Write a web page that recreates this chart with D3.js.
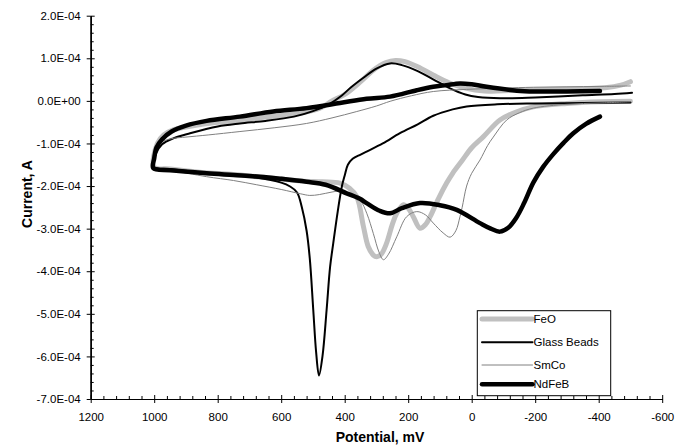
<!DOCTYPE html>
<html>
<head>
<meta charset="utf-8">
<script src="https://cdn.jsdelivr.net/npm/d3@7"></script>
<style>
  body { margin: 0; background: #fff; }
  text { font-family: "Liberation Sans", Arial, sans-serif; }
</style>
</head>
<body>
<script>
// potential in mV, current in units of 1E-4 A
const feoPotential = [-500, -470, -420, -300, -200, -100, -40, 20, 70, 120, 170, 210, 240, 270, 310, 350, 400, 440, 480, 550, 650, 750, 850, 940, 970, 990, 1000,
  950, 850, 750, 650, 541, 470, 415, 385, 362, 341, 326, 310, 299, 285, 268, 250, 236, 215, 200, 184, 163, 145, 131, 105, 79, 60, 30, 0, -37, -89, -140, -194, -300, -404, -500];
const feoCurrent = [0.45, 0.37, 0.31, 0.28, 0.26, 0.24, 0.23, 0.30, 0.42, 0.60, 0.80, 0.92, 0.95, 0.90, 0.72, 0.45, 0.15, 0.0, -0.18, -0.30, -0.38, -0.47, -0.55, -0.68, -0.80, -1.0, -1.55,
  -1.60, -1.68, -1.73, -1.80, -1.88, -1.90, -1.93, -2.05, -2.25, -2.95, -3.42, -3.62, -3.66, -3.60, -3.34, -2.90, -2.64, -2.44, -2.52, -2.72, -2.99, -2.90, -2.72, -2.30, -1.93, -1.70, -1.40, -1.10, -0.84, -0.45, -0.26, -0.14, -0.06, -0.02, -0.01];

const glassPotential = [-505, -450, -350, -200, -90, -20, 20, 70, 120, 170, 220, 257, 300, 340, 380, 410, 450, 500, 560, 650, 730, 800, 887, 940, 975, 995, 1000,
  950, 850, 750, 680, 600, 572, 550, 535, 520, 510, 499, 490, 481, 470, 457, 446, 436, 422, 409, 400, 390, 375, 350, 331, 280, 226, 170, 121, 60, 16, -80, -194, -350, -500];
const glassCurrent = [0.19, 0.16, 0.13, 0.08, 0.06, 0.09, 0.15, 0.30, 0.50, 0.70, 0.84, 0.88, 0.76, 0.55, 0.32, 0.12, -0.08, -0.24, -0.37, -0.47, -0.53, -0.60, -0.76, -0.88, -1.02, -1.25, -1.55,
  -1.60, -1.68, -1.75, -1.80, -1.92, -2.01, -2.15, -2.50, -3.05, -3.70, -4.91, -5.90, -6.45, -6.00, -4.91, -3.90, -3.34, -2.60, -2.01, -1.75, -1.50, -1.36, -1.26, -1.19, -1.00, -0.76, -0.55, -0.35, -0.20, -0.13, -0.08, -0.06, -0.05, -0.04];

const smcoPotential = [-500, -404, -300, -194, -100, 16, 121, 190, 257, 300, 362, 440, 520, 620, 730, 830, 900, 940, 970, 990, 1000, 1003,
  950, 835, 750, 677, 600, 540, 510, 480, 440, 415, 380, 350, 330, 310, 292, 278, 262, 236, 205, 173, 145, 121, 90, 68, 50, 37, 30, 16, 0, -26, -50, -68, -110, -150, -194, -300, -404, -500];
const smcoCurrent = [0.35, 0.34, 0.33, 0.32, 0.30, 0.27, 0.22, 0.12, -0.01, -0.12, -0.25, -0.40, -0.53, -0.63, -0.72, -0.80, -0.85, -0.88, -0.94, -1.05, -1.30, -1.55,
  -1.62, -1.78, -1.87, -1.97, -2.08, -2.18, -2.22, -2.20, -2.14, -2.12, -2.20, -2.35, -2.65, -3.11, -3.55, -3.73, -3.60, -3.19, -2.72, -2.60, -2.68, -2.87, -3.10, -3.20, -3.05, -2.72, -2.50, -2.00, -1.70, -1.39, -1.05, -0.85, -0.45, -0.28, -0.17, -0.08, -0.05, -0.02];

const ndfebPotential = [-404, -300, -200, -142, -47, 0, 37, 80, 121, 173, 257, 331, 415, 520, 625, 730, 835, 900, 945, 975, 993, 1000, 1003,
  950, 835, 750, 667, 600, 520, 460, 394, 352, 331, 290, 257, 220, 163, 100, 47, -26, -60, -89, -115, -140, -165, -194, -225, -257, -290, -320, -360, -404];
const ndfebCurrent = [0.23, 0.22, 0.22, 0.24, 0.33, 0.39, 0.41, 0.37, 0.33, 0.25, 0.10, 0.05, -0.05, -0.17, -0.25, -0.37, -0.47, -0.58, -0.72, -0.90, -1.10, -1.35, -1.58,
  -1.63, -1.70, -1.74, -1.78, -1.83, -1.90, -1.97, -2.17, -2.30, -2.40, -2.58, -2.64, -2.52, -2.40, -2.45, -2.56, -2.87, -3.00, -3.07, -2.98, -2.75, -2.40, -1.92, -1.55, -1.25, -0.98, -0.76, -0.54, -0.37];

const seriesNames = ["FeO", "Glass Beads", "SmCo", "NdFeB"];
const xTickValues = [1200, 1000, 800, 600, 400, 200, 0, -200, -400, -600];
const xTickLabels = ["1200", "1000", "800", "600", "400", "200", "0", "-200", "-400", "-600"];
const yTickValues = [2e-4, 1e-4, 0, -1e-4, -2e-4, -3e-4, -4e-4, -5e-4, -6e-4, -7e-4];
const yTickLabels = ["2.0E-04", "1.0E-04", "0.0E+00", "-1.0E-04", "-2.0E-04", "-3.0E-04", "-4.0E-04", "-5.0E-04", "-6.0E-04", "-7.0E-04"];

const styles = [
  { color: "#c0c0c0", width: 5 },
  { color: "#000", width: 2 },
  { color: "#808080", width: 1 },
  { color: "#000", width: 4.5 }
];

const toPoints = (p, c) => p.map((v, i) => ({ mv: v, amp: c[i] * 1e-4 }));
const series = [
  toPoints(feoPotential, feoCurrent),
  toPoints(glassPotential, glassCurrent),
  toPoints(smcoPotential, smcoCurrent),
  toPoints(ndfebPotential, ndfebCurrent)
];

const svg = d3.select("body").append("svg")
  .attr("width", 675)
  .attr("height", 448);

const x = d3.scaleLinear().domain([1200, -600]).range([90.7, 662.2]);
const y = d3.scaleLinear().domain([-7e-4, 2e-4]).range([399, 15.7]);

const xMinor = d3.range(1200, -600, -40).filter(v => v % 200 !== 0);
const yMinor = d3.range(-7e-4, 2e-4, 2e-5).filter((v, i) => i % 5 !== 0);

// y axis
const yAx = svg.append("g").attr("transform", `translate(${x(1200)},0)`);
yAx.append("g").call(d3.axisLeft(y).tickValues(yTickValues).tickSize(4).tickSizeOuter(0).tickFormat(""));
yAx.append("g").call(d3.axisRight(y).tickValues(yTickValues).tickSize(4).tickSizeOuter(0).tickFormat(""));
yAx.append("g").call(d3.axisRight(y).tickValues(yMinor).tickSize(3).tickSizeOuter(0).tickFormat(""));
yAx.append("g").call(d3.axisLeft(y).tickValues(yTickValues).tickSize(0).tickPadding(10)
  .tickFormat((d, i) => yTickLabels[i]));

// x axis
const xAx = svg.append("g").attr("transform", `translate(0,${y(-7e-4)})`);
xAx.append("g").call(d3.axisBottom(x).tickValues(xTickValues).tickSize(4).tickSizeOuter(0).tickFormat(""));
xAx.append("g").call(d3.axisTop(x).tickValues(xTickValues).tickSize(4).tickSizeOuter(0).tickFormat(""));
xAx.append("g").call(d3.axisTop(x).tickValues(xMinor).tickSize(3).tickSizeOuter(0).tickFormat(""));
xAx.append("g").call(d3.axisBottom(x).tickValues(xTickValues).tickSize(0).tickPadding(14)
  .tickFormat((d, i) => xTickLabels[i]));

svg.selectAll(".tick text").attr("font-size", 11.5).attr("fill", "#000")
  .style("font-family", "Liberation Sans, Arial, sans-serif");
svg.selectAll(".domain, .tick line").attr("stroke", "#000");

// curves
const line = d3.line()
  .x(d => x(d.mv))
  .y(d => y(d.amp))
  .curve(d3.curveCatmullRom.alpha(0.5));

svg.append("g").selectAll("path")
  .data(series)
  .join("path")
  .attr("d", d => line(d))
  .attr("fill", "none")
  .attr("stroke", (d, i) => styles[i].color)
  .attr("stroke-width", (d, i) => styles[i].width)
  .attr("stroke-linejoin", "round")
  .attr("stroke-linecap", "round");

// axis titles
svg.append("text")
  .attr("x", 380)
  .attr("y", 442)
  .attr("text-anchor", "middle")
  .attr("font-size", 14)
  .attr("font-weight", "bold")
  .text("Potential, mV");

svg.append("text")
  .attr("transform", "translate(32,194) rotate(-90)")
  .attr("text-anchor", "middle")
  .attr("font-size", 14)
  .attr("font-weight", "bold")
  .text("Current, A");

// legend
const legend = svg.append("g");
legend.append("rect")
  .attr("x", 477.3).attr("y", 310.7)
  .attr("width", 133.4).attr("height", 85)
  .attr("fill", "#fff").attr("stroke", "#000").attr("stroke-width", 1);

const rowY = [319, 342.3, 365, 384.3];
seriesNames.forEach((name, i) => {
  legend.append("line")
    .attr("x1", 482).attr("x2", 532.5)
    .attr("y1", rowY[i]).attr("y2", rowY[i])
    .attr("stroke", styles[i].color)
    .attr("stroke-width", styles[i].width)
    .attr("stroke-linecap", "round");
  legend.append("text")
    .attr("x", 533.5).attr("y", rowY[i])
    .attr("dy", "0.36em")
    .attr("font-size", 11.5)
    .text(name);
});
</script>
</body>
</html>
